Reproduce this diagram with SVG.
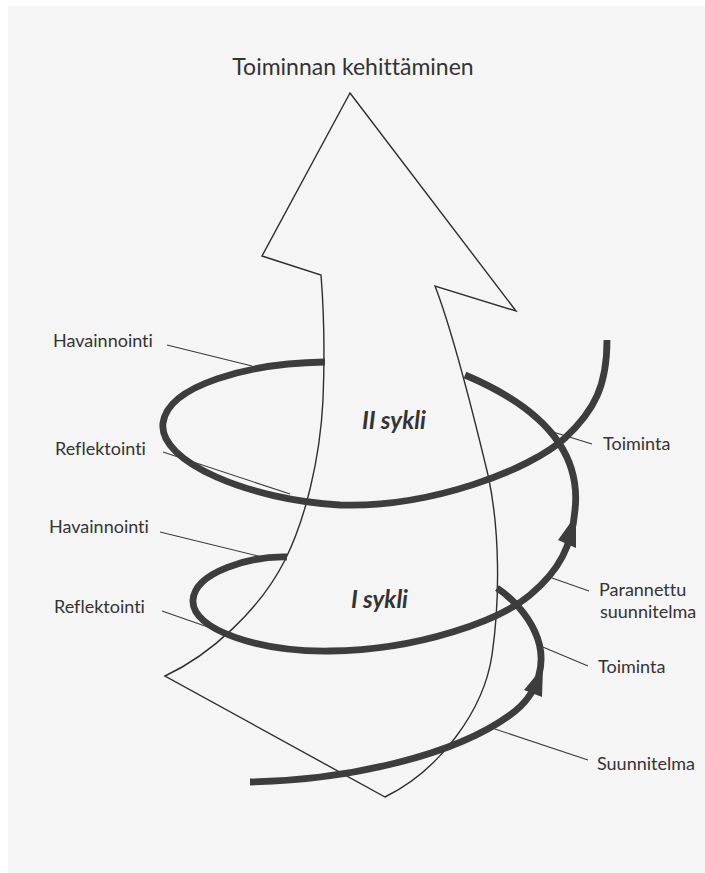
<svg xmlns="http://www.w3.org/2000/svg" width="705" height="873" viewBox="0 0 705 873">
<style>
text{font-variant-ligatures:none;font-feature-settings:"liga" 0}
.lbl{font-family:Lato,"Liberation Sans",sans-serif;font-size:18px;fill:#333}
.ttl{font-family:Lato,"Liberation Sans",sans-serif;font-size:23px;fill:#333}
.cyc{font-family:Lato,"Liberation Sans",sans-serif;font-size:24px;font-weight:bold;font-style:italic;fill:#333}
.thick{fill:none;stroke:#3d3d3d;stroke-width:6.8;stroke-linecap:butt}
.thin{fill:none;stroke:#3a3a3a;stroke-width:1.1}
.outline{fill:none;stroke:#2e2e2e;stroke-width:1.4;stroke-linejoin:miter}
.head{fill:#3d3d3d;stroke:none}
</style>
<rect x="0" y="0" width="705" height="873" fill="#ffffff"/>
<rect x="8" y="6" width="697" height="867" fill="#f5f5f5"/>
<g id="arrow">
<path class="outline" d="M350,93 L516,311 L435,286 C452,330 470,400 488,475 C500,530 500,600 492,655 C484,710 440,770 385,797 L165,676 C210,655 260,610 285,560 C305,520 320,460 323,400 C325,350 323,300 321,275 L262,256 Z"/>
</g>
<g id="connectors">
<path id="spiral-start" class="thick" d="M250,782 C350,780 455,755 510,715 C540,694 548,660 535,632 C527,614 512,598 497,588"/>
<path id="spiral-loop1" class="thick" d="M287,557 C250,556 195,572 193,600 C191,630 260,652 330,651 C420,650 500,620 530,595 C560,570 572,545 575,510 C580,465 560,415 465,375"/>
<path id="spiral-loop2" class="thick" d="M325,362 C250,363 168,385 163,423 C158,462 250,500 340,505 C430,508 530,470 565,438 C595,410 607,385 607,340"/>
<polygon class="head" points="543,667 524,690 542,697"/>
<polygon class="head" points="576,515 558,540 576,548"/>
<line class="thin" x1="167" y1="345" x2="252" y2="366"/>
<line class="thin" x1="163" y1="452" x2="290" y2="494"/>
<line class="thin" x1="160" y1="532" x2="262" y2="557"/>
<line class="thin" x1="162" y1="611" x2="225" y2="633"/>
<line class="thin" x1="592" y1="444" x2="553" y2="432"/>
<line class="thin" x1="589" y1="591" x2="552" y2="578"/>
<line class="thin" x1="588" y1="666" x2="538" y2="645"/>
<line class="thin" x1="492" y1="728" x2="588" y2="760"/>
</g>
<g id="title"><text class="ttl" x="353" y="75" text-anchor="middle">Toiminnan kehittäminen</text></g>
<g id="havainnointi-2"><text class="lbl" x="53" y="347">Havainnointi</text></g>
<g id="reflektointi-2"><text class="lbl" x="55" y="455">Reflektointi</text></g>
<g id="havainnointi-1"><text class="lbl" x="49" y="533">Havainnointi</text></g>
<g id="reflektointi-1"><text class="lbl" x="54" y="613">Reflektointi</text></g>
<g id="toiminta-2"><text class="lbl" x="603" y="450">Toiminta</text></g>
<g id="parannettu"><text class="lbl" x="599" y="596">Parannettu</text><text class="lbl" x="600" y="618">suunnitelma</text></g>
<g id="toiminta-1"><text class="lbl" x="598" y="673">Toiminta</text></g>
<g id="suunnitelma"><text class="lbl" x="597" y="770">Suunnitelma</text></g>
<g id="sykli-2"><text class="cyc" x="362" y="429">II sykli</text></g>
<g id="sykli-1"><text class="cyc" x="351" y="608">I sykli</text></g>
</svg>
